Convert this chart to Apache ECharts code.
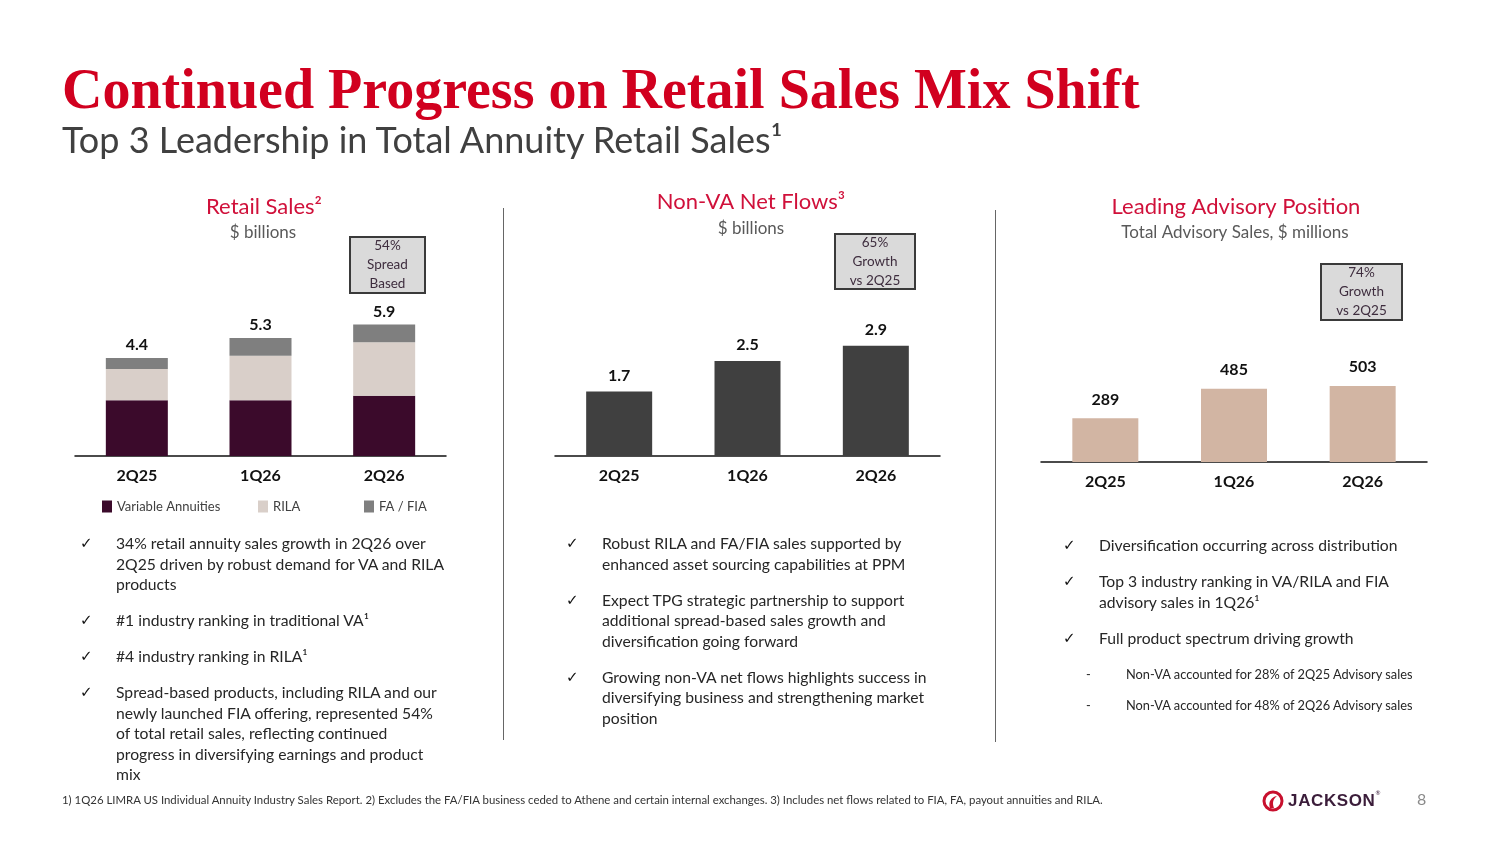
<!DOCTYPE html>
<html>
<head>
<meta charset="utf-8">
<script src="https://cdn.jsdelivr.net/npm/echarts@6.0.0/dist/echarts.min.js"></script>
<style>
  html, body { margin:0; padding:0; background:#fff; }
  #page { position:relative; width:1500px; height:844px; overflow:hidden; font-family:Lato, "Open Sans", sans-serif; }
  #chart { position:absolute; left:0; top:0; width:1500px; height:844px; }
  .abs { position:absolute; white-space:nowrap; }
  #title { left:62px; top:61px; font-family:"Liberation Serif", serif; font-weight:bold; font-size:56px; line-height:56px; color:#d1001f; }
  #subtitle { left:62px; top:119px; font-size:36px; line-height:40px; color:#404040; }
  .vline { position:absolute; width:1px; background:#666; }
  .bul { position:absolute; font-size:15.7px; line-height:20.5px; color:#262626; white-space:nowrap; }
  .bul .it { position:relative; padding-left:36px; margin-bottom:15.5px; }
  .bul .ck { position:absolute; left:0; top:0; font-family:"DejaVu Sans"; font-size:15px; color:#111; }
  .sub { position:relative; padding-left:63px; font-size:12.8px; margin-bottom:10.5px; }
  .sub .ds { position:absolute; left:23px; }
  #foot { left:62px; top:793px; font-size:11.4px; color:#333; }
  #logo { left:1262px; top:789px; height:24px; }
  #pgnum { left:1417px; top:789px; font-size:16px; color:#8a8a8a; }
</style>
</head>
<body>
<div id="page">
  <div id="chart"></div>
  <div id="title" class="abs">Continued Progress on Retail Sales Mix Shift</div>
  <div id="subtitle" class="abs">Top 3 Leadership in Total Annuity Retail Sales¹</div>

  <div class="vline" style="left:503px; top:208px; height:532px;"></div>
  <div class="vline" style="left:995px; top:210px; height:532px;"></div>

  <div class="bul" style="left:80px; top:533px;">
    <div class="it"><span class="ck">✓</span>34% retail annuity sales growth in 2Q26 over<br>2Q25 driven by robust demand for VA and RILA<br>products</div>
    <div class="it"><span class="ck">✓</span>#1 industry ranking in traditional VA¹</div>
    <div class="it"><span class="ck">✓</span>#4 industry ranking in RILA¹</div>
    <div class="it"><span class="ck">✓</span>Spread-based products, including RILA and our<br>newly launched FIA offering, represented 54%<br>of total retail sales, reflecting continued<br>progress in diversifying earnings and product<br>mix</div>
  </div>

  <div class="bul" style="left:566px; top:533px;">
    <div class="it"><span class="ck">✓</span>Robust RILA and FA/FIA sales supported by<br>enhanced asset sourcing capabilities at PPM</div>
    <div class="it"><span class="ck">✓</span>Expect TPG strategic partnership to support<br>additional spread-based sales growth and<br>diversification going forward</div>
    <div class="it"><span class="ck">✓</span>Growing non-VA net flows highlights success in<br>diversifying business and strengthening market<br>position</div>
  </div>

  <div class="bul" style="left:1063px; top:535px;">
    <div class="it"><span class="ck">✓</span>Diversification occurring across distribution</div>
    <div class="it"><span class="ck">✓</span>Top 3 industry ranking in VA/RILA and FIA<br>advisory sales in 1Q26¹</div>
    <div class="it"><span class="ck">✓</span>Full product spectrum driving growth</div>
    <div class="sub"><span class="ds">-</span>Non-VA accounted for 28% of 2Q25 Advisory sales</div>
    <div class="sub"><span class="ds">-</span>Non-VA accounted for 48% of 2Q26 Advisory sales</div>
  </div>

  <div id="foot" class="abs">1) 1Q26 LIMRA US Individual Annuity Industry Sales Report. 2) Excludes the FA/FIA business ceded to Athene and certain internal exchanges. 3) Includes net flows related to FIA, FA, payout annuities and RILA.</div>

  <div id="logo" class="abs">
    <svg width="22" height="24" viewBox="0 0 22 24" style="vertical-align:middle">
      <circle cx="11" cy="12" r="9" fill="none" stroke="#c8102e" stroke-width="3"/>
      <path d="M8 19 C6 13 9 8 15 7 C11 10 10 14 12 19 Z" fill="#c8102e"/>
    </svg>
    <span style="font-family:'Liberation Sans'; font-weight:bold; font-size:17px; color:#3b1d3a; letter-spacing:0.6px; vertical-align:middle;">JACKSON</span><span style="font-size:6px; color:#3b1d3a; vertical-align:top;">®</span>
  </div>
  <div id="pgnum" class="abs">8</div>
</div>

<script>
// quarters on every chart
var quarters = ['2Q25', '1Q26', '2Q26'];

// retail sales, $ billions (stacked)
var vaSales = [2.5, 2.5, 2.7];
var rilaSales = [1.4, 2.0, 2.4];
var fiaSales = [0.5, 0.8, 0.8];
var retailTotals = [4.4, 5.3, 5.9];

// non-VA net flows, $ billions
var nonVaFlows = [1.7, 2.5, 2.9];

// total advisory sales, $ millions
var advisorySales = [289, 485, 503];

var chart = echarts.init(document.getElementById('chart'));

var catLabel = {
  color: '#111', fontFamily: 'Lato', fontWeight: 'bold', fontSize: 16, margin: 12
};
var valLabel = {
  show: true, position: 'top', color: '#111',
  fontFamily: 'Lato', fontWeight: 'bold', fontSize: 16
};
function xAx(i){
  return {
    type: 'category', gridIndex: i, data: quarters,
    axisLine: { lineStyle: { color: '#111', width: 1.5 } },
    axisTick: { show: false },
    axisLabel: catLabel
  };
}
function yAx(i, max){
  return { type: 'value', gridIndex: i, min: 0, max: max, show: false, splitLine: { show: false } };
}
function legendAt(name, left){
  return {
    data: [name], left: left, top: 495, icon: 'rect', itemWidth: 10, itemHeight: 12,
    textStyle: { color: '#404040', fontFamily: 'Lato', fontSize: 13 }
  };
}
function heading(text, x, y, size, color){
  return {
    type: 'text', x: x, y: y,
    style: { text: text, textAlign: 'center', textVerticalAlign: 'middle',
      fontFamily: 'Lato', fontSize: size, fill: color }
  };
}
function box(x, y, w, h, lines){
  return {
    type: 'group', children: [
      { type: 'rect', shape: { x: x, y: y, width: w, height: h },
        style: { fill: '#dadada', stroke: '#3a3a3a', lineWidth: 2 } },
      { type: 'text', x: x + w / 2, y: y + h / 2,
        style: { text: lines, textAlign: 'center', textVerticalAlign: 'middle',
          fontFamily: 'Lato', fontSize: 13.5, lineHeight: 19, fill: '#3e2d3e' } }
    ]
  };
}

var option = {
  animation: false,
  grid: [
    { left: 75, width: 371, top: 300, height: 156 },
    { left: 555, width: 385, top: 304, height: 152 },
    { left: 1041, width: 386, top: 311, height: 151 }
  ],
  xAxis: [xAx(0), xAx(1), xAx(2)],
  yAxis: [yAx(0, 7), yAx(1, 4), yAx(2, 1000)],
  legend: [
    legendAt('Variable Annuities', 97),
    legendAt('RILA', 253),
    legendAt('FA / FIA', 359)
  ],
  graphic: [
    heading('Retail Sales²', 264, 207, 22, '#d0103a'),
    heading('$ billions', 263, 233, 17, '#595959'),
    heading('Non-VA Net Flows³', 751, 202, 22, '#d0103a'),
    heading('$ billions', 751, 229, 17, '#595959'),
    heading('Leading Advisory Position', 1236, 207, 22, '#d0103a'),
    heading('Total Advisory Sales, $ millions', 1235, 233, 17, '#595959'),
    box(350, 237, 75, 56, '54%\nSpread\nBased'),
    box(835, 234, 80, 55, '65%\nGrowth\nvs 2Q25'),
    box(1321, 264, 81, 56, '74%\nGrowth\nvs 2Q25')
  ],
  series: [
    { name: 'Variable Annuities', type: 'bar', stack: 'retail', xAxisIndex: 0, yAxisIndex: 0,
      barWidth: 62, data: vaSales, itemStyle: { color: '#3b0a2b' } },
    { name: 'RILA', type: 'bar', stack: 'retail', xAxisIndex: 0, yAxisIndex: 0,
      barWidth: 62, data: rilaSales, itemStyle: { color: '#d9cfc9' } },
    { name: 'FA / FIA', type: 'bar', stack: 'retail', xAxisIndex: 0, yAxisIndex: 0,
      barWidth: 62, data: fiaSales, itemStyle: { color: '#7f7f7f' },
      label: Object.assign({}, valLabel, { distance: 5,
        formatter: function(p){ return retailTotals[p.dataIndex].toFixed(1); } }) },
    { name: 'Non-VA Net Flows', type: 'bar', xAxisIndex: 1, yAxisIndex: 1,
      barWidth: 66, data: nonVaFlows, itemStyle: { color: '#404040' },
      label: Object.assign({}, valLabel, { distance: 8,
        formatter: function(p){ return p.value.toFixed(1); } }) },
    { name: 'Advisory Sales', type: 'bar', xAxisIndex: 2, yAxisIndex: 2,
      barWidth: 66, data: advisorySales, itemStyle: { color: '#d2b5a3' },
      label: Object.assign({}, valLabel, { distance: 11 }) }
  ]
};
chart.setOption(option);
</script>
</body>
</html>
